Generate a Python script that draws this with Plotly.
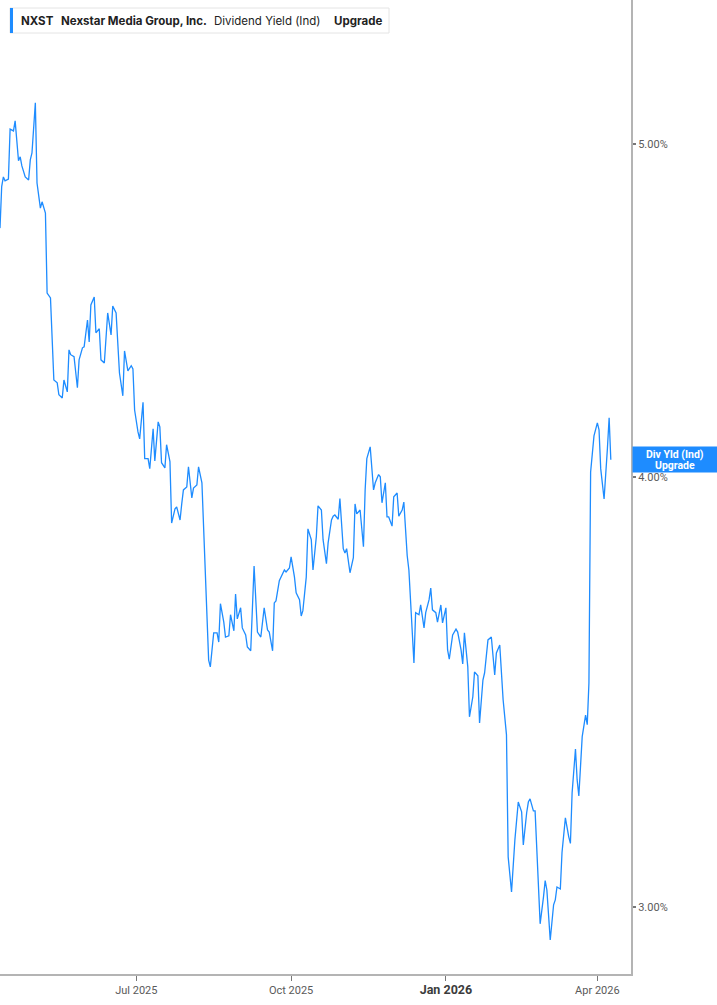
import numpy as np
import plotly.graph_objects as go

# ---- data ----
dates = [
    "2025-04-11","2025-04-12","2025-04-13","2025-04-14","2025-04-16","2025-04-17","2025-04-19","2025-04-20",
    "2025-04-22","2025-04-23","2025-04-24","2025-04-26","2025-04-28","2025-04-29","2025-04-30","2025-05-02",
    "2025-05-03","2025-05-05","2025-05-06","2025-05-08","2025-05-09","2025-05-11","2025-05-13","2025-05-15",
    "2025-05-16","2025-05-18","2025-05-19","2025-05-21","2025-05-22","2025-05-23","2025-05-25","2025-05-27",
    "2025-05-28","2025-05-30","2025-05-31","2025-06-02","2025-06-03","2025-06-04","2025-06-06","2025-06-07",
    "2025-06-09","2025-06-10","2025-06-12","2025-06-13","2025-06-14","2025-06-16","2025-06-17","2025-06-19",
    "2025-06-21","2025-06-23","2025-06-24","2025-06-26","2025-06-28","2025-06-29","2025-06-30","2025-07-02",
    "2025-07-03","2025-07-05","2025-07-06","2025-07-08","2025-07-09","2025-07-11","2025-07-12","2025-07-14",
    "2025-07-15","2025-07-16","2025-07-18","2025-07-19","2025-07-21","2025-07-22","2025-07-24","2025-07-25",
    "2025-07-27","2025-07-28","2025-07-29","2025-07-31","2025-08-01","2025-08-03","2025-08-04","2025-08-06",
    "2025-08-07","2025-08-09","2025-08-13","2025-08-14","2025-08-16","2025-08-18","2025-08-19","2025-08-20",
    "2025-08-22","2025-08-23","2025-08-25","2025-08-26","2025-08-28","2025-08-29","2025-08-30","2025-09-01",
    "2025-09-02","2025-09-04","2025-09-05","2025-09-07","2025-09-08","2025-09-09","2025-09-11","2025-09-13",
    "2025-09-15","2025-09-17","2025-09-18","2025-09-20","2025-09-21","2025-09-22","2025-09-24","2025-09-26",
    "2025-09-27","2025-09-28","2025-09-30","2025-10-01","2025-10-03","2025-10-04","2025-10-06","2025-10-07",
    "2025-10-08","2025-10-10","2025-10-11","2025-10-13","2025-10-14","2025-10-16","2025-10-17","2025-10-19",
    "2025-10-20","2025-10-22","2025-10-23","2025-10-25","2025-10-26","2025-10-27","2025-10-29","2025-10-30",
    "2025-11-01","2025-11-02","2025-11-03","2025-11-05","2025-11-07","2025-11-08","2025-11-09","2025-11-11",
    "2025-11-13","2025-11-14","2025-11-15","2025-11-17","2025-11-19","2025-11-20","2025-11-22","2025-11-23",
    "2025-11-24","2025-11-26","2025-11-27","2025-11-28","2025-11-30","2025-12-01","2025-12-03","2025-12-04",
    "2025-12-06","2025-12-07","2025-12-09","2025-12-10","2025-12-13","2025-12-14","2025-12-16","2025-12-17",
    "2025-12-19","2025-12-20","2025-12-22","2025-12-23","2025-12-24","2025-12-26","2025-12-27","2025-12-29",
    "2025-12-30","2026-01-01","2026-01-02","2026-01-03","2026-01-05","2026-01-07","2026-01-08","2026-01-10",
    "2026-01-11","2026-01-12","2026-01-14","2026-01-15","2026-01-17","2026-01-18","2026-01-20","2026-01-21",
    "2026-01-23","2026-01-24","2026-01-26","2026-01-28","2026-01-30","2026-01-31","2026-02-02","2026-02-04",
    "2026-02-06","2026-02-07","2026-02-09","2026-02-11","2026-02-13","2026-02-15","2026-02-16","2026-02-18",
    "2026-02-19","2026-02-20","2026-02-22","2026-02-23","2026-02-25","2026-02-26","2026-02-28","2026-03-01",
    "2026-03-02","2026-03-04","2026-03-06","2026-03-07","2026-03-08","2026-03-10","2026-03-11","2026-03-13",
    "2026-03-15","2026-03-16","2026-03-17","2026-03-19","2026-03-20","2026-03-21","2026-03-23","2026-03-25",
    "2026-03-26","2026-03-27","2026-03-28","2026-03-30","2026-04-01","2026-04-02","2026-04-03","2026-04-05",
    "2026-04-07","2026-04-08","2026-04-09",
]

div_yield = [
    4.726,4.859,4.891,4.878,4.884,5.050,5.044,5.078,
    4.944,4.957,4.927,4.891,4.881,4.947,4.970,5.140,
    4.871,4.790,4.810,4.774,4.525,4.510,4.269,4.261,
    4.227,4.218,4.269,4.235,4.356,4.342,4.336,4.247,
    4.327,4.362,4.365,4.444,4.379,4.489,4.513,4.406,
    4.418,4.327,4.318,4.394,4.465,4.400,4.486,4.465,
    4.289,4.224,4.353,4.295,4.310,4.301,4.184,4.123,
    4.104,4.206,4.050,4.050,4.023,4.132,4.044,4.151,
    4.137,4.039,4.025,4.088,4.042,3.879,3.916,3.921,
    3.887,3.929,3.966,3.974,4.028,3.945,3.971,3.979,
    4.028,3.985,3.539,3.523,3.604,3.604,3.582,3.675,
    3.630,3.594,3.597,3.648,3.609,3.699,3.638,3.665,
    3.616,3.599,3.570,3.561,3.677,3.769,3.606,3.594,
    3.665,3.611,3.606,3.561,3.677,3.682,3.732,3.752,
    3.759,3.754,3.764,3.792,3.741,3.702,3.685,3.645,
    3.658,3.741,3.864,3.836,3.759,3.844,3.924,3.913,
    3.836,3.775,3.828,3.887,3.897,3.900,3.889,3.943,
    3.813,3.802,3.813,3.752,3.790,3.929,3.903,3.913,
    3.818,3.966,4.050,4.082,3.966,3.985,4.007,4.001,
    3.932,3.985,3.895,3.895,3.871,3.948,3.958,3.897,
    3.913,3.934,3.795,3.759,3.532,3.653,3.648,3.672,
    3.616,3.653,3.685,3.714,3.660,3.653,3.630,3.672,
    3.628,3.665,3.563,3.541,3.599,3.613,3.606,3.563,
    3.530,3.604,3.523,3.407,3.453,3.511,3.502,3.393,
    3.492,3.509,3.587,3.594,3.504,3.556,3.575,3.446,
    3.366,3.102,3.030,3.138,3.218,3.197,3.127,3.195,
    3.218,3.225,3.199,3.199,3.032,2.966,3.020,3.053,
    3.034,2.934,3.004,3.014,3.040,3.036,3.111,3.184,
    3.144,3.130,3.238,3.334,3.266,3.231,3.362,3.411,
    3.389,3.485,4.014,4.112,4.148,4.129,4.023,3.942,
    4.079,4.162,4.047,
]

y_tick_vals = [3, 4, 5]
y_tick_text = ["3.00%", "4.00%", "5.00%"]
x_tick_vals = ["2025-07-01", "2025-10-01", "2026-01-01", "2026-04-01"]
x_tick_text = ["Jul 2025", "Oct 2025",
               "<span style='font-size:12.5px;color:#3c3c3c'><b>Jan 2026</b></span>", "Apr 2026"]
x_range = ["2025-04-11", "2026-04-21"]
y_range = [2.868, 5.506]

legend_parts = ["NXST", "Nexstar Media Group, Inc.", "Dividend Yield (Ind)", "Upgrade"]
legend_bold = [True, True, False, True]
end_label = ["Div Yld (Ind)", "Upgrade"]

# ---- layout geometry ----
W, H = 717, 1005
ML, MR, MT, MB = 0, 86, 0, 31
PW, PH = W - ML - MR, H - MT - MB
BLUE = "#1e8cff"
AXIS = "#b4b4b4"


def px(x):
    return x / PW


def py(y):
    return 1 - y / PH


fig = go.Figure()
fig.add_trace(go.Scatter(
    x=dates, y=div_yield, mode="lines",
    line=dict(color=BLUE, width=1.3),
    hoverinfo="skip", showlegend=False,
))

fig.update_layout(
    width=W, height=H,
    margin=dict(l=ML, r=MR, t=MT, b=MB, pad=0),
    paper_bgcolor="white", plot_bgcolor="white",
    font=dict(family="Roboto, Arial, sans-serif", color="#555"),
    xaxis=dict(
        type="date", range=x_range, tickvals=x_tick_vals, ticktext=x_tick_text,
        showgrid=False, zeroline=False, showline=True, linecolor=AXIS, linewidth=2,
        ticks="outside", ticklen=5, tickwidth=1, tickcolor="#777",
        tickfont=dict(size=11, color="#5a5a5a", family="Roboto, Arial, sans-serif"),
    ),
    yaxis=dict(
        type="log", side="right",
        range=[np.log10(y_range[0]), np.log10(y_range[1])],
        tickvals=y_tick_vals, ticktext=y_tick_text,
        showgrid=False, zeroline=False, showline=True, linecolor=AXIS, linewidth=2,
        ticks="outside", ticklen=3, tickwidth=2, tickcolor="#777",
        tickfont=dict(size=11, color="#5a5a5a", family="Roboto, Arial, sans-serif"),
    ),
)

# header box
fig.add_shape(type="rect", xref="paper", yref="paper",
              x0=px(10), x1=px(389), y0=py(33), y1=py(8),
              line=dict(color="#e4e4e4", width=1), fillcolor="white", layer="above")
fig.add_shape(type="rect", xref="paper", yref="paper",
              x0=px(10), x1=px(13), y0=py(33), y1=py(8),
              line=dict(width=0), fillcolor=BLUE, layer="above")
legend_x = [19, 59, 212, 332]
for txt, bold, lx in zip(legend_parts, legend_bold, legend_x):
    fig.add_annotation(
        xref="paper", yref="paper", x=px(lx), y=py(20.5),
        xanchor="left", yanchor="middle", showarrow=False,
        text=f"<b>{txt}</b>" if bold else txt,
        font=dict(family="Inter, Roboto, sans-serif", size=11.5, color="#222"),
    )

# end-of-line label
last_log = np.log10(div_yield[-1])
fig.add_annotation(
    xref="paper", yref="y", x=px(632), y=last_log, xanchor="left", yanchor="middle",
    showarrow=False, text=" ", bgcolor=BLUE, width=85, height=25, borderpad=0,
)
fig.add_annotation(
    xref="paper", yref="y", x=px(632 + 42.5), y=last_log, yshift=5.5,
    xanchor="center", yanchor="middle", showarrow=False,
    text=f"<b>{end_label[0]}</b>",
    font=dict(family="Roboto, Arial, sans-serif", size=10.5, color="white"),
)
fig.add_annotation(
    xref="paper", yref="y", x=px(632 + 42.5), y=last_log, yshift=-5.5,
    xanchor="center", yanchor="middle", showarrow=False,
    text=f"<b>{end_label[1]}</b>",
    font=dict(family="Roboto, Arial, sans-serif", size=10.5, color="white"),
)

fig.write_html(
    "out.html",
    config={"displayModeBar": False},
    post_script="document.body.style.margin='0';document.body.style.overflow='hidden';",
)
